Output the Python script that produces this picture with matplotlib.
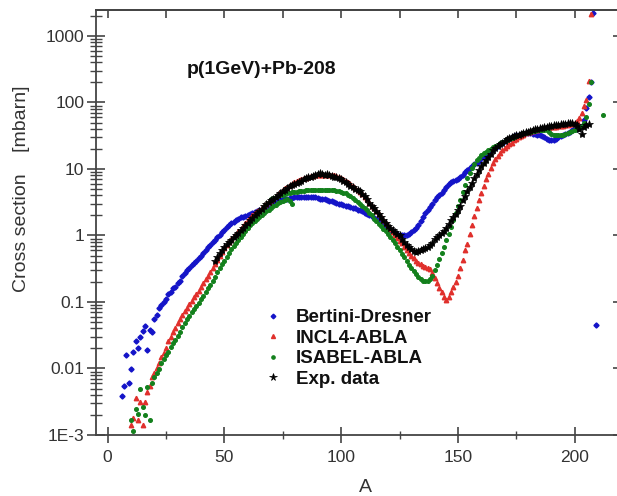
import numpy as np
import matplotlib
matplotlib.use("Agg")
import matplotlib.pyplot as plt
from matplotlib.ticker import LogLocator, FixedLocator, FixedFormatter, MultipleLocator, NullFormatter

plt.rcParams['font.family'] = ['Liberation Sans', 'DejaVu Sans']

# ---------------- data (A, cross section in mbarn) ----------------
bertini_A = list(range(6, 209)) + [209]
bertini_v = [
    0.0038, 0.0055, 0.016, 0.0061, 0.0097, 0.018, 0.026, 0.020, 0.030, 0.037,
    0.044, 0.019, 0.038, 0.036, 0.055, 0.064, 0.080, 0.089, 0.10, 0.11,
    0.13, 0.14, 0.16, 0.17, 0.19, 0.21, 0.25, 0.27, 0.30, 0.33,
    0.36, 0.39, 0.42, 0.46, 0.50, 0.55, 0.60, 0.66, 0.73, 0.80,
    0.87, 0.95, 1.03, 1.12, 1.22, 1.32, 1.42, 1.52, 1.62, 1.72,
    1.80, 1.87, 1.93, 1.98, 2.05, 2.1, 2.2, 2.25, 2.3, 2.4,
    2.5, 2.6, 2.7, 2.8, 2.95, 3.05, 3.2, 3.3, 3.4, 3.5,
    3.55, 3.6, 3.65, 3.7, 3.75, 3.8, 3.8, 3.85, 3.85, 3.85,
    3.85, 3.85, 3.8, 3.8, 3.7, 3.6, 3.55, 3.5, 3.4, 3.35,
    3.25, 3.2, 3.1, 3.0, 2.95, 2.9, 2.8, 2.75, 2.7, 2.6,
    2.55, 2.45, 2.4, 2.3, 2.2, 2.1, 2.05, 1.95, 1.85, 1.75,
    1.7, 1.6, 1.5, 1.4, 1.3, 1.2, 1.15, 1.1, 1.05, 1.02,
    1.0, 1.0, 1.02, 1.06, 1.12, 1.2, 1.28, 1.45, 1.65, 1.9,
    2.15, 2.4, 2.7, 3.0, 3.4, 3.8, 4.1, 4.4, 4.8, 5.4,
    6.0, 6.3, 6.5, 6.8, 7.1, 7.6, 8.2, 8.9, 9.5, 10.2,
    11.0, 11.7, 12.4, 13.4, 14.4, 15.4, 16.3, 17.3, 18.5, 19.8,
    21.0, 22.3, 23.5, 24.8, 26.2, 27.5, 28.6, 29.8, 31, 32,
    33, 33.5, 34, 34.4, 34.5, 34.3, 34, 33.5, 33, 32.5,
    31.5, 30, 28.5, 27.5, 27, 27.3, 28.5, 30, 31.5, 33,
    34, 35, 36.5, 38, 39.5, 40.5, 41, 45, 55, 82,
    120, 206, 2200, 0.045]

incl_A = list(range(10, 208))
incl_v = [
    0.0014, 0.0018, 0.0036, 0.0017, 0.0031, 0.0014, 0.0031, 0.0045, 0.0054, 0.0075,
    0.0085, 0.010, 0.012, 0.0147, 0.017, 0.020, 0.026, 0.030, 0.036, 0.041,
    0.048, 0.055, 0.064, 0.072, 0.082, 0.092, 0.105, 0.118, 0.13, 0.145,
    0.17, 0.19, 0.22, 0.25, 0.28, 0.32, 0.37, 0.43, 0.50, 0.57,
    0.64, 0.72, 0.80, 0.88, 0.97, 1.06, 1.16, 1.27, 1.4, 1.55,
    1.7, 1.85, 2.0, 2.15, 2.3, 2.45, 2.6, 2.8, 3.0, 3.2,
    3.45, 3.7, 3.95, 4.2, 4.5, 4.8, 5.1, 5.4, 5.7, 6.0,
    6.3, 6.6, 6.8, 7.0, 7.2, 7.4, 7.6, 7.8, 7.9, 8.0,
    8.1, 8.15, 8.2, 8.2, 8.2, 8.15, 8.1, 8.0, 7.8, 7.6,
    7.3, 7.0, 6.7, 6.3, 5.9, 5.5, 5.1, 4.8, 4.5, 4.2,
    3.8, 3.5, 3.1, 2.8, 2.55, 2.3, 2.1, 1.9, 1.7, 1.55,
    1.4, 1.25, 1.12, 1.0, 0.92, 0.84, 0.76, 0.68, 0.61, 0.55,
    0.5, 0.46, 0.42, 0.39, 0.37, 0.35, 0.34, 0.33, 0.31, 0.27,
    0.23, 0.19, 0.16, 0.14, 0.12, 0.107, 0.12, 0.14, 0.17, 0.2,
    0.25, 0.33, 0.43, 0.6, 0.75, 1.05, 1.45, 1.95, 2.6, 3.4,
    4.4, 5.6, 7.0, 8.5, 10.5, 12.3, 14, 15.8, 17.5, 19,
    20.5, 22, 23.5, 25, 27, 28.5, 30, 31.5, 33, 34.5,
    35.5, 36.5, 37.5, 38.3, 39, 39.7, 40.3, 40.8, 41.2, 41.7,
    42.2, 42.8, 43.3, 43.8, 44.4, 45, 45.6, 46.3, 47, 48,
    49.5, 52, 58, 70, 90, 110, 210, 2150]

isabel_A = list(range(10, 80)) + list(range(70, 208)) + [212]
isabel_v = [
    0.0017, 0.00114, 0.0025, 0.0021, 0.0049, 0.0026, 0.0020, 0.0053, 0.0017, 0.006,
    0.0075, 0.0085, 0.0098, 0.012, 0.014, 0.016, 0.018, 0.021, 0.024, 0.027,
    0.031, 0.036, 0.042, 0.048, 0.055, 0.062, 0.07, 0.078, 0.087, 0.097,
    0.11, 0.125, 0.14, 0.16, 0.18, 0.21, 0.24, 0.28, 0.32, 0.37,
    0.42, 0.48, 0.55, 0.62, 0.7, 0.78, 0.87, 0.96, 1.06, 1.17,
    1.3, 1.42, 1.54, 1.66, 1.78, 1.9, 2.03, 2.17, 2.3, 2.45,
    2.6, 2.75, 2.9, 3.05, 3.2, 3.35, 3.45, 3.5, 3.3, 3.0,
    # upper track
    3.5, 3.65, 3.8, 3.9, 4.0, 4.1, 4.2, 4.3, 4.4, 4.45,
    4.5, 4.55, 4.6, 4.65, 4.7, 4.75, 4.8, 4.8, 4.8, 4.85,
    4.85, 4.85, 4.85, 4.85, 4.85, 4.8, 4.8, 4.75, 4.7, 4.6,
    4.5, 4.4, 4.3, 4.1, 3.9, 3.7, 3.45, 3.2, 3.0, 2.8,
    2.6, 2.4, 2.2, 2.0, 1.8, 1.65, 1.5, 1.38, 1.26, 1.15,
    1.05, 0.95, 0.85, 0.76, 0.68, 0.6, 0.53, 0.47, 0.41, 0.36,
    0.32, 0.29, 0.26, 0.24, 0.22, 0.21, 0.205, 0.21, 0.22, 0.25,
    0.3, 0.36, 0.45, 0.55, 0.68, 0.85, 1.05, 1.35, 1.7, 2.2,
    2.8, 3.4, 4.5, 5.8, 7.2, 8.8, 10.2, 12, 13.6, 14.8,
    16, 17.2, 18.2, 19.2, 20.2, 21.2, 22.2, 23.2, 24.3, 25.3,
    26.3, 27.3, 28.3, 29.5, 30.6, 31.6, 32.5, 33.4, 34.3, 35.2,
    36, 36.6, 37.2, 37.7, 38.1, 38.4, 38.6, 38.7, 38.6, 36,
    33.5, 32.5, 32.5, 32.5, 32.5, 33, 34, 35, 36, 37.5,
    39, 40, 41, 44, 50, 61, 95, 206, 65]

exp_A = list(range(46, 207))
exp_v = [
    0.42, 0.48, 0.55, 0.6, 0.68, 0.74, 0.8, 0.87, 0.95, 1.02,
    1.1, 1.2, 1.3, 1.42, 1.55, 1.7, 1.85, 2.0, 2.15, 2.3,
    2.5, 2.75, 3.0, 3.2, 3.4, 3.6, 3.85, 4.1, 4.35, 4.6,
    4.9, 5.2, 5.5, 5.7, 5.9, 6.1, 6.4, 6.7, 7.0, 7.2,
    7.5, 7.7, 7.9, 8.1, 8.3, 8.6, 8.4, 8.2, 8.3, 8.0,
    7.8, 7.6, 7.5, 7.3, 7.0, 6.7, 6.4, 6.0, 5.6, 5.3,
    5.0, 4.8, 4.6, 4.2, 3.9, 3.5, 3.1, 2.8, 2.6, 2.35,
    2.1, 1.9, 1.7, 1.55, 1.4, 1.3, 1.2, 1.12, 1.05, 1.0,
    0.9, 0.8, 0.72, 0.66, 0.62, 0.59, 0.57, 0.58, 0.6, 0.62,
    0.65, 0.68, 0.72, 0.78, 0.88, 0.96, 1.02, 1.08, 1.18, 1.3,
    1.5, 1.7, 1.9, 2.1, 2.4, 2.8, 3.4, 3.9, 4.6, 5.3,
    6.2, 7.2, 8.3, 9.5, 11, 12.3, 13.7, 15.2, 17, 19,
    20.5, 22, 23.5, 25, 26.5, 28, 29.3, 30.5, 31.5, 32.3,
    33, 33.8, 34.5, 35.5, 36.5, 37.5, 38.5, 39.3, 40, 41,
    42, 42.8, 43.5, 44.3, 45, 45.5, 46, 46.5, 47, 47.5,
    48, 48.5, 49, 49, 48, 46, 40, 34, 43, 46,
    48]

series_labels = ["Bertini-Dresner", "INCL4-ABLA", "ISABEL-ABLA", "Exp. data"]
y_ticks = [1e-3, 1e-2, 1e-1, 1, 10, 100, 1000]
y_ticklabels = ["1E-3", "0.01", "0.1", "1", "10", "100", "1000"]
x_ticks = [0, 50, 100, 150, 200]

# ---------------- figure ----------------
W, H = 617, 496
fig = plt.figure(figsize=(W / 100, H / 100), dpi=100)
ax = fig.add_axes([96 / W, (H - 435) / H, (619 - 96) / W, (435 - 10) / H])

axc = "#444444"
ax.plot(bertini_A, bertini_v, ls="none", marker="D", ms=2.6, color="#1414c8",
        mec="#1414c8", label=series_labels[0])
ax.plot(incl_A, incl_v, ls="none", marker="^", ms=3.2, color="#e0302c",
        mec="#e0302c", label=series_labels[1])
ax.plot(isabel_A, isabel_v, ls="none", marker="o", ms=2.6, color="#13801c",
        mec="#13801c", label=series_labels[2])
ax.plot(exp_A, exp_v, ls="none", marker="*", ms=6.0, color="black",
        mec="black", mew=0.5, label=series_labels[3])

ax.set_yscale("log")
ax.set_xlim(-5, 219)
ax.set_ylim(1e-3, 2460)

for s in ax.spines.values():
    s.set_color(axc)
    s.set_linewidth(1.3)

ax.yaxis.set_major_locator(FixedLocator(y_ticks))
ax.yaxis.set_major_formatter(FixedFormatter(y_ticklabels))
ax.yaxis.set_minor_locator(LogLocator(base=10, subs=np.arange(2, 10), numticks=20))
ax.yaxis.set_minor_formatter(NullFormatter())
ax.xaxis.set_major_locator(FixedLocator(x_ticks))
ax.xaxis.set_minor_locator(MultipleLocator(25))

ax.tick_params(axis="y", which="major", direction="inout", length=13, width=1.2,
               color=axc, labelsize=12.5, labelcolor="#333333", pad=2)
ax.tick_params(axis="y", which="minor", direction="inout", length=8, width=1.0, color=axc)
ax.tick_params(axis="x", which="major", direction="inout", length=11.5, width=1.2,
               color=axc, labelsize=12.5, labelcolor="#333333", pad=5)
ax.tick_params(axis="x", which="minor", direction="inout", length=5.5, width=1.0, color=axc)

# top and right inward ticks
top = ax.secondary_xaxis("top")
top.xaxis.set_major_locator(MultipleLocator(25))
top.tick_params(direction="in", length=6, width=1.2, color=axc, labeltop=False)
top.spines["top"].set_color(axc)
top.spines["top"].set_linewidth(1.3)
right = ax.secondary_yaxis("right")
right.yaxis.set_major_locator(FixedLocator(y_ticks))
right.yaxis.set_minor_locator(FixedLocator([]))
right.tick_params(direction="in", length=4, width=1.2, color=axc, labelright=False)

ax.text(33.7, 310, "p(1GeV)+Pb-208", fontsize=14, fontweight="bold",
        ha="left", va="center", color="#111111")

fig.text(22 / W, (H - 189) / H, "Cross section    [mbarn]", rotation=90,
         fontsize=14, ha="center", va="center", color="#333333")
fig.text(365 / W, (H - 487) / H, "A", fontsize=14, ha="center", va="center",
         color="#333333")

leg = ax.legend(loc="upper left", bbox_to_anchor=(263.6 / W, (H - 309) / H),
                bbox_transform=fig.transFigure, frameon=False, borderpad=0,
                borderaxespad=0, handlelength=1.0, handletextpad=0.73,
                labelspacing=0.18, markerscale=0.9,
                prop={"weight": "bold", "size": 13.5})
for t in leg.get_texts():
    t.set_color("#111111")

fig.savefig("out.png", dpi=100)
